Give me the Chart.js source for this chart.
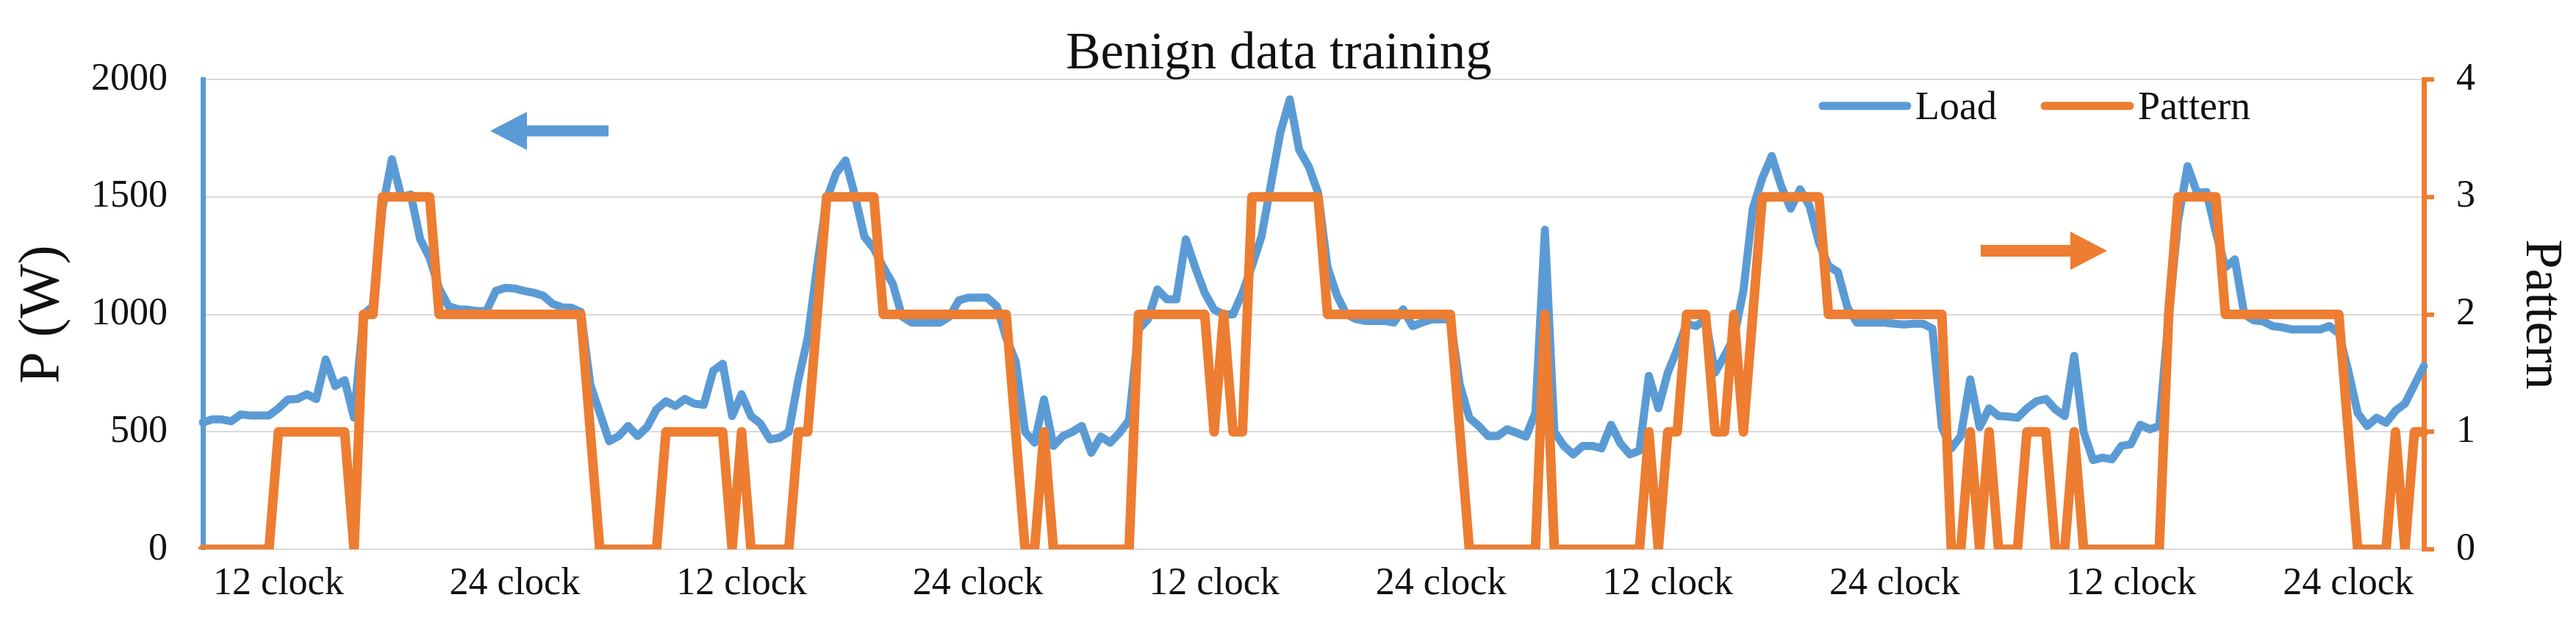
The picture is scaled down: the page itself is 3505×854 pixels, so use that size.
<!DOCTYPE html>
<html>
<head>
<meta charset="utf-8">
<script src="https://cdn.jsdelivr.net/npm/chart.js@4.4.1/dist/chart.umd.min.js"></script>
<style>
  html, body { margin: 0; padding: 0; background: #fff; }
  #wrap { width: 3505px; height: 854px; }
</style>
</head>
<body>
<div id="wrap"><canvas id="benignChart" width="3505" height="854"></canvas></div>
<script>
// Load in W, sampled every half hour (first point ~8:00)
const load = [
  540, 553, 553, 545, 574, 570, 570, 570, 600, 638,
  640, 660, 640, 808, 695, 720, 560, 1000, 1035, 1450,
  1660, 1500, 1510, 1320, 1240, 1110, 1035, 1021, 1020, 1014,
  1014, 1100, 1113, 1110, 1100, 1092, 1080, 1045, 1030, 1028,
  1010, 700, 580, 460, 482, 525, 482, 520, 596, 630,
  610, 640, 620, 615, 760, 790, 567, 660, 567, 535,
  468, 475, 500, 720, 900, 1206, 1489, 1600, 1655, 1505,
  1330, 1280, 1200, 1130, 990, 965, 965, 965, 965, 990,
  1060, 1071, 1071, 1071, 1035, 900, 800, 500, 454, 638,
  440, 482, 500, 525, 411, 480, 454, 496, 550, 936,
  979, 1106, 1064, 1064, 1319, 1200, 1092, 1020, 1000, 1000,
  1092, 1206, 1330, 1550, 1773, 1915, 1700, 1630, 1518, 1200,
  1080, 1000, 980, 972, 972, 972, 965, 1021, 950, 965,
  979, 979, 979, 700, 560, 525, 482, 482, 511, 496,
  480, 582, 1360, 500, 440, 404, 440, 440, 430, 530,
  450, 404, 420, 738, 600, 752, 851, 960, 950, 979,
  752, 823, 900, 1100, 1450, 1580, 1674, 1546, 1450, 1532,
  1461, 1305, 1206, 1180, 1030, 965, 965, 965, 965, 960,
  957, 960, 960, 940, 520, 430, 482, 723, 520, 600,
  567, 565, 560, 600, 630, 640, 596, 567, 823, 500,
  380, 390, 383, 440, 447, 530, 511, 525, 993, 1400,
  1631, 1518, 1520, 1348, 1200, 1234, 1000, 975, 970, 950,
  945, 936, 936, 936, 936, 950, 920, 760, 580, 525,
  560, 539, 590, 620, 700, 780
];

const pattern = [
  0, 0, 0, 0, 0, 0, 0, 0, 1, 1,
  1, 1, 1, 1, 1, 1, 0, 2, 2, 3,
  3, 3, 3, 3, 3, 2, 2, 2, 2, 2,
  2, 2, 2, 2, 2, 2, 2, 2, 2, 2,
  2, 1, 0, 0, 0, 0, 0, 0, 0, 1,
  1, 1, 1, 1, 1, 1, 0, 1, 0, 0,
  0, 0, 0, 1, 1, 2, 3, 3, 3, 3,
  3, 3, 2, 2, 2, 2, 2, 2, 2, 2,
  2, 2, 2, 2, 2, 2, 1, 0, 0, 1,
  0, 0, 0, 0, 0, 0, 0, 0, 0, 2,
  2, 2, 2, 2, 2, 2, 2, 1, 2, 1,
  1, 3, 3, 3, 3, 3, 3, 3, 3, 2,
  2, 2, 2, 2, 2, 2, 2, 2, 2, 2,
  2, 2, 2, 1, 0, 0, 0, 0, 0, 0,
  0, 0, 2, 0, 0, 0, 0, 0, 0, 0,
  0, 0, 0, 1, 0, 1, 1, 2, 2, 2,
  1, 1, 2, 1, 2, 3, 3, 3, 3, 3,
  3, 3, 2, 2, 2, 2, 2, 2, 2, 2,
  2, 2, 2, 2, 2, 0, 0, 1, 0, 1,
  0, 0, 0, 1, 1, 1, 0, 0, 1, 0,
  0, 0, 0, 0, 0, 0, 0, 0, 2, 3,
  3, 3, 3, 3, 2, 2, 2, 2, 2, 2,
  2, 2, 2, 2, 2, 2, 2, 1, 0, 0,
  0, 0, 1, 0, 1, 1
];

// where the hour labels sit on the category axis
const tickIdx = [8, 33, 57, 82, 107, 131, 155, 179, 204, 227];
const tickText = ['12 clock', '24 clock', '12 clock', '24 clock', '12 clock',
                  '24 clock', '12 clock', '24 clock', '12 clock', '24 clock'];

const BLUE = '#5B9BD5';
const ORANGE = '#ED7D31';
const INK = '#111111';
const SERIF = '"Liberation Serif", "Times New Roman", serif';

// Titel, forklaring og pile tegnes oven paa grafen
const overlay = {
    id: 'overlay',
    afterDraw(chart) {
        const ctx = chart.ctx;
        ctx.save();

        ctx.fillStyle = INK;
        ctx.font = '71px ' + SERIF;
        ctx.textAlign = 'center';
        ctx.textBaseline = 'alphabetic';
        ctx.fillText('Benign data training', 1740, 93);

        // legend
        ctx.lineCap = 'round';
        ctx.lineWidth = 11;
        ctx.strokeStyle = BLUE;
        ctx.beginPath();
        ctx.moveTo(2480, 144);
        ctx.lineTo(2595, 144);
        ctx.stroke();
        ctx.strokeStyle = ORANGE;
        ctx.beginPath();
        ctx.moveTo(2782, 144);
        ctx.lineTo(2898, 144);
        ctx.stroke();

        ctx.font = '54px ' + SERIF;
        ctx.textAlign = 'left';
        ctx.fillText('Load', 2606, 162);
        ctx.fillText('Pattern', 2909, 162);

        // arrows
        drawArrow(ctx, 828, 667, 178, BLUE, 15);
        drawArrow(ctx, 2695, 2867, 341, ORANGE, 16);

        ctx.restore();
    }
};

function drawArrow(ctx, fromX, tipX, y, color, thick) {
    const dir = tipX > fromX ? 1 : -1;
    const headLen = 50;
    const baseX = tipX - dir * headLen;
    ctx.fillStyle = color;
    ctx.fillRect(Math.min(fromX, baseX), y - thick / 2, Math.abs(baseX - fromX), thick);
    ctx.beginPath();
    ctx.moveTo(tipX, y);
    ctx.lineTo(baseX, y - 26);
    ctx.lineTo(baseX, y + 26);
    ctx.closePath();
    ctx.fill();
}

const ctx = document.getElementById('benignChart').getContext('2d');

new Chart(ctx, {
    type: 'line',
    data: {
        labels: load.map((v, i) => i),
        datasets: [
            {
                label: 'Load',
                data: load,
                yAxisID: 'y',
                borderColor: BLUE,
                borderWidth: 11,
                pointRadius: 0,
                tension: 0,
                borderJoinStyle: 'round',
                borderCapStyle: 'round',
                order: 2
            },
            {
                label: 'Pattern',
                data: pattern,
                yAxisID: 'y1',
                borderColor: ORANGE,
                borderWidth: 13,
                pointRadius: 0,
                tension: 0,
                borderJoinStyle: 'round',
                borderCapStyle: 'round',
                order: 1
            }
        ]
    },
    options: {
        responsive: false,
        animation: false,
        layout: { padding: { top: 108 } },
        plugins: {
            legend: { display: false },
            tooltip: { enabled: false }
        },
        scales: {
            x: {
                offset: false,
                grid: { display: false, drawTicks: false },
                border: { display: false },
                ticks: {
                    autoSkip: false,
                    maxRotation: 0,
                    minRotation: 0,
                    padding: 16,
                    color: INK,
                    font: { family: SERIF, size: 52 },
                    callback: function(value, index) {
                        const k = tickIdx.indexOf(index);
                        return k >= 0 ? tickText[k] : '';
                    }
                },
                afterFit: function(scale) { scale.height = 107; }
            },
            y: {
                position: 'left',
                min: 0,
                max: 2000,
                ticks: {
                    stepSize: 500,
                    padding: 48,
                    color: INK,
                    font: { family: SERIF, size: 52 },
                    callback: function(value) { return String(value); }
                },
                grid: { color: '#d9d9d9', lineWidth: 2, drawTicks: false },
                border: { color: BLUE, width: 7 },
                title: {
                    display: true,
                    text: 'P (W)',
                    color: INK,
                    font: { family: SERIF, size: 78 },
                    padding: { top: 12, bottom: 0 }
                },
                afterFit: function(scale) { scale.width = 276; }
            },
            y1: {
                position: 'right',
                min: 0,
                max: 4,
                ticks: {
                    stepSize: 1,
                    padding: 30,
                    color: INK,
                    font: { family: SERIF, size: 52 }
                },
                grid: { drawOnChartArea: false, color: ORANGE, lineWidth: 6, tickLength: 14 },
                border: { color: ORANGE, width: 7 },
                title: {
                    display: true,
                    text: 'Pattern',
                    color: INK,
                    font: { family: SERIF, size: 72 },
                    padding: { top: 5, bottom: 0 }
                },
                afterFit: function(scale) { scale.width = 207; }
            }
        }
    },
    plugins: [overlay]
});
</script>
</body>
</html>
